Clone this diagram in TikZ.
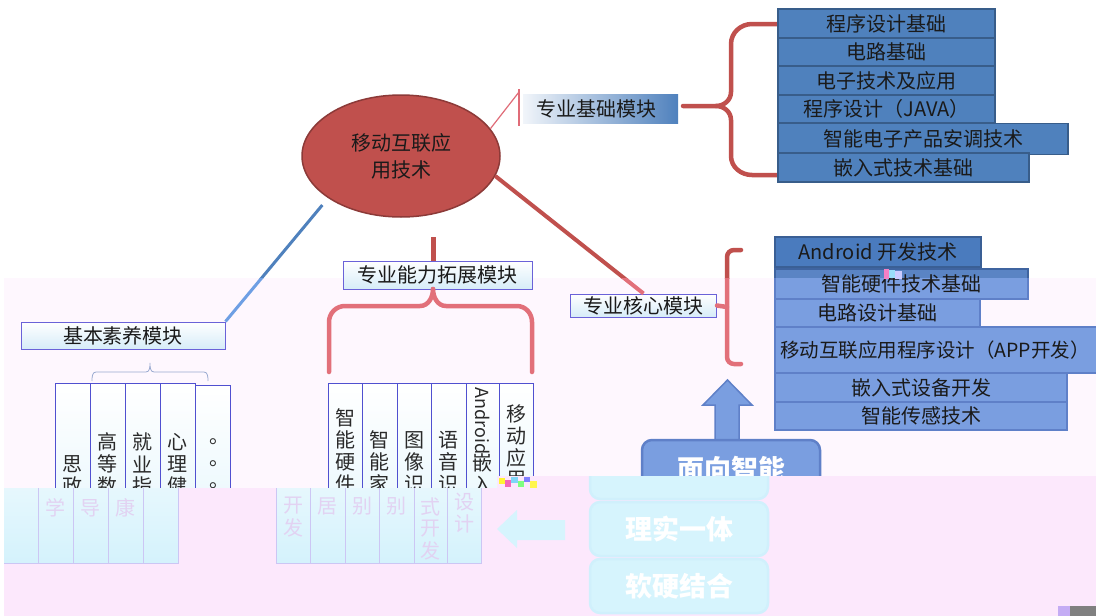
\documentclass[tikz,border=0pt]{standalone}
\usepackage{fontspec}
\setmainfont{Noto Sans CJK SC}
\usetikzlibrary{shapes.geometric}
\newcommand{\fs}[1]{\fontsize{#1}{#1}\selectfont}
\newcount\textmode

\newcommand{\setTop}{%
 \definecolor{cRed}{HTML}{C0504D}%
 \definecolor{cThin}{HTML}{E06C78}%
 \definecolor{cBlueL}{HTML}{4F81BD}%
 \definecolor{cEll}{HTML}{C0504D}%
 \definecolor{cEllB}{HTML}{8C3A38}%
 \definecolor{cS1}{HTML}{4F81BD}%
 \definecolor{cS1B}{HTML}{385D8A}%
 \definecolor{cAnd}{HTML}{4A7BBE}%
 \definecolor{cAndB}{HTML}{3A5F95}%
 \definecolor{cS2}{HTML}{5A84C4}%
 \definecolor{cS2B}{HTML}{3F64A0}%
 \definecolor{cLabB}{HTML}{6A62D8}%
 \definecolor{cLabF}{HTML}{D6ECF8}%
 \definecolor{cColB}{HTML}{5050D0}%
 \definecolor{cColF}{HTML}{E2F5FC}%
 \definecolor{cTxt}{HTML}{1A1A1A}%
 \definecolor{cColT}{HTML}{2A2A2A}%
 \definecolor{cArr}{HTML}{7A9EE0}%
 \definecolor{cArrB}{HTML}{5F80C8}%
 \definecolor{cBr}{HTML}{9AAAD0}%
 \definecolor{cBoxT}{HTML}{FFFFFF}%
}
\newcommand{\setBand}{%
 \setTop
 \definecolor{cRed}{HTML}{E2707A}%
 \definecolor{cBlueL}{HTML}{6E9FE4}%
 \definecolor{cS2}{HTML}{7A9EE0}%
 \definecolor{cS2B}{HTML}{5F80C8}%
}
\newcommand{\setPale}{%
 \setBand
 \definecolor{cColB}{HTML}{CCC6F4}%
 \definecolor{cColF}{HTML}{D4F2FC}%
 \definecolor{cColT}{HTML}{E2D2F2}%
 \definecolor{cArr}{HTML}{D6F4FD}%
 \definecolor{cArrB}{HTML}{D0F0FC}%
}

\tikzset{
 s1/.style={draw=cS1B, fill=cS1, line width=1.5pt, inner sep=0pt},
 s2/.style={draw=cS2B, fill=cS2, line width=1.5pt, inner sep=0pt},
 andbox/.style={draw=cAndB, fill=cAnd, line width=1.5pt, inner sep=0pt},
 lab/.style={draw=cLabB, line width=1pt, top color=white, bottom color=cLabF, inner sep=0pt},
 labzero/.style={left color=white!92!cS1, middle color=white!75!cS1, right color=cS1, inner sep=0pt},
 colbox/.style={draw=cColB, line width=1pt, top color=white, bottom color=cColF, anchor=north west, inner sep=0pt, minimum height=180pt},
 coltxt/.style={text=cColT, font=\fs{20}, inner sep=0pt},
 txt/.style={text=cTxt, font=\fs{20}, inner sep=0pt},
 bigtxt/.style={text=cBoxT, font=\fs{27}\bfseries, inner sep=0pt},
 bracepath/.style={draw=cRed, line width=4.5pt, line cap=round, line join=round},
 rb/.style={rounded corners=10pt, fill=cArr, draw=cArrB, line width=2.5pt, inner sep=0pt, minimum width=178pt},
}

% vertical column text; mode 0 draws the upper characters, mode 1 the lower ones
\newcommand{\vtext}[4]{%
 \foreach \c [count=\i] in {#4} {%
  \pgfmathsetmacro\yy{#3+22*(\i-1)}%
  \ifnum\textmode=0
   \ifdim\yy pt<498pt \node[coltxt] (#1-\i) at (#2,\yy) {\c};\fi
  \else
   \ifdim\yy pt>498pt \node[coltxt] (#1-\i) at (#2,\yy) {\c};\fi
  \fi}%
}

\newcommand{\sceneShapes}{%
 \node[ellipse, draw=cEllB, line width=1.5pt, fill=cEll, minimum width=198pt, minimum height=122pt, inner sep=0pt] (ell) at (401,156) {};
 \node[labzero, minimum width=155pt, minimum height=29pt] (jc) at (600.5,108.5) {};
 \node[lab, minimum width=189pt, minimum height=28pt] (nl) at (437.5,275) {};
 \node[lab, minimum width=146pt, minimum height=23pt] (hx) at (643.5,305.5) {};
 \node[lab, minimum width=204pt, minimum height=27pt] (jb) at (123,335.5) {};
 % connectors
 \coordinate (jcBar) at (519,92);
 \draw[cThin, line width=1.2pt] (ell.17) -- (jcBar);
 \draw[cThin, line width=1.2pt] (519,89) -- (519,126);
 \draw[cRed, line width=4pt] (ell.-12) -- (hx.north);
 \draw[cBlueL, line width=3pt, shorten <=9pt] (ell.210) -- (jb.north east);
 \coordinate (nlTop) at (433,237);
 \draw[cRed, line width=5pt] (nlTop) -- (nlTop |- nl.north);
 % braces
 \draw[bracepath] (778,24) -- (752,24) to[out=180,in=90] (731,44) -- (731,92) to[out=-90,in=0] (716,106) -- (683,106);
 \draw[bracepath] (716,106) to[out=0,in=90] (731,120) -- (731,156) to[out=-90,in=180] (752,175) -- (778,175);
 \draw[bracepath] (741,250) -- (734,250) to[out=180,in=90] (727,257) -- (727,357) to[out=-90,in=180] (734,364) -- (741,364);
 \draw[bracepath] (hx.east) -- (727,307);
 \draw[bracepath] (433,289) to[out=-90,in=0] (420,306) -- (345,306) to[out=180,in=90] (329,322) -- (329,372);
 \draw[bracepath] (433,289) to[out=-90,in=180] (446,306) -- (517,306) to[out=0,in=90] (532,322) -- (532,372);
 \draw[cBr, line width=0.8pt] (92,381) to[out=90,in=180] (96,372) -- (146,372) to[out=0,in=-90] (150,363)
   to[out=-90,in=180] (154,372) -- (204,372) to[out=0,in=90] (208,381);
 % stack 1
 \node[s1, minimum width=217pt, minimum height=29pt] (a1) at (886.5,23.5) {};
 \node[s1, minimum width=217pt, minimum height=28pt] (a2) at (886.5,52) {};
 \node[s1, minimum width=217pt, minimum height=29pt] (a3) at (886.5,80.5) {};
 \node[s1, minimum width=217pt, minimum height=28pt] (a4) at (886.5,109) {};
 \node[s1, minimum width=290pt, minimum height=31pt] (a5) at (923,139) {};
 \node[s1, minimum width=251pt, minimum height=29pt] (a6) at (903.5,167.5) {};
 % stack 2
 \node[andbox, minimum width=206pt, minimum height=30pt] (b1) at (878,252) {};
 \node[s2, minimum width=253pt, minimum height=30pt] (b2) at (901.5,284) {};
 \node[s2, minimum width=205pt, minimum height=28pt] (b3) at (877.5,313) {};
 \node[s2, minimum width=340pt, minimum height=46pt] (b4) at (945,350) {};
 \node[s2, minimum width=292pt, minimum height=29pt] (b5) at (921,387.5) {};
 \node[s2, minimum width=292pt, minimum height=28pt] (b6) at (921,416) {};
 % up arrow
 \draw[fill=cArr, draw=cArrB, line width=1.5pt] (715,441) -- (715,405) -- (703,405) -- (727.5,380) -- (752,405) -- (739,405) -- (739,441) -- cycle;
 % rounded boxes
 \node[rb, minimum height=59pt] (m1) at (731,469.5) {};
 \node[rb, minimum height=54pt] (m2) at (731,529) {};
 \node[rb, minimum height=54pt] (m3) at (731,586) {};
 % left arrow
 \fill[cArr] (549,529) -- (569,510) -- (569,520) -- (617,520) -- (617,540) -- (569,540) -- (569,548) -- cycle;
 % columns
 \node[colbox, minimum width=35pt] (c1) at (55,383) {};
 \node[colbox, minimum width=35pt] (c2) at (90,383) {};
 \node[colbox, minimum width=35pt] (c3) at (125,383) {};
 \node[colbox, minimum width=35pt] (c4) at (160,383) {};
 \node[colbox, minimum width=35pt, minimum height=178pt] (c5) at (195,385) {};
 \node[colbox, minimum width=34pt] (d1) at (328,383) {};
 \node[colbox, minimum width=35pt] (d2) at (362,383) {};
 \node[colbox, minimum width=34pt] (d3) at (397,383) {};
 \node[colbox, minimum width=35pt] (d4) at (431,383) {};
 \node[colbox, minimum width=33pt] (d5) at (466,383) {};
 \node[colbox, minimum width=34pt] (d6) at (499,383) {};
}

\newcommand{\columnText}{%
 \vtext{t1}{72.5}{464}{思,政}
 \vtext{t2}{107.5}{442}{高,等,数,学}
 \vtext{t3}{142.5}{442}{就,业,指,导}
 \vtext{t4}{177.5}{442}{心,理,健,康}
 \vtext{t5}{219}{442}{。,。,。}
 \vtext{u1}{345}{418}{智,能,硬,件,开,发}
 \vtext{u2}{379.5}{440}{智,能,家,居}
 \vtext{u3}{414}{440}{图,像,识,别}
 \vtext{u4}{448.5}{440}{语,音,识,别}
 \vtext{u5}{482.5}{463}{嵌,入,式,开,发}
 \vtext{u6}{516}{414}{移,动,应,用,设,计}
}

\newcommand{\upperText}{%
 \node[txt, align=center, font=\fontsize{20}{27}\selectfont] (ellt) at (ell) {移动互联应\\用技术};
 \node[txt, xshift=-4pt] (jct) at (jc) {专业基础模块};
 \node[txt] (nlt) at (nl) {专业能力拓展模块};
 \node[txt] (hxt) at (hx) {专业核心模块};
 \node[txt] (jbt) at (jb) {基本素养模块};
 \node[txt] (a1t) at (a1) {程序设计基础};
 \node[txt] (a2t) at (a2) {电路基础};
 \node[txt] (a3t) at (a3) {电子技术及应用};
 \node[txt] (a4t) at (a4) {程序设计（JAVA）};
 \node[txt] (a5t) at (a5) {智能电子产品安调技术};
 \node[txt] (a6t) at (a6) {嵌入式技术基础};
 \node[txt] (b1t) at (b1) {Android 开发技术};
 \node[txt] (b2t) at (b2) {智能硬件技术基础};
 \node[txt] (b3t) at (b3) {电路设计基础};
 \node[txt, font=\fs{19.5}, anchor=west] (b4t) at (780,350) {移动互联应用程序设计（APP开发）};
 \node[txt] (b5t) at (b5) {嵌入式设备开发};
 \node[txt] (b6t) at (b6) {智能传感技术};
 \node[coltxt, font=\fs{18}, rotate=-90] (u5a) at (482.5,421) {Android};
}

\begin{document}
\begin{tikzpicture}[x=1pt,y=-1pt]
 \useasboundingbox (0,0) rectangle (1096,616);
 \clip (0,0) rectangle (1096,616);
 \fill[white] (0,0) rectangle (1096,616);
 \fill[fill={rgb,255:red,254;green,247;blue,254}] (4,278) rectangle (1096,616);
 \begin{scope}
  \clip (0,0) rectangle (1096,278);
  \setTop\sceneShapes
 \end{scope}
 \begin{scope}
  \clip (0,278) rectangle (1096,616);
  \setBand\sceneShapes
 \end{scope}
 \begin{scope}
  \clip (0,0) -- (1096,0) -- (1096,476) -- (497,476) -- (497,488) -- (0,488) -- cycle;
  \setTop
  \upperText
  \textmode=0 \columnText
  \node[bigtxt] (m1t) at (m1) {面向智能};
 \end{scope}
 \begin{scope}
  \clip (4,488) -- (497,488) -- (497,476) -- (1096,476) -- (1096,616) -- (4,616) -- cycle;
  \fill[fill={rgb,255:red,252;green,232;blue,252}] (0,470) rectangle (1096,616);
  \begin{scope}[xshift=-52pt]
   \setPale\sceneShapes
   \textmode=1 \columnText
   \node[bigtxt] (pm2t) at (m2) {理实一体};
   \node[bigtxt] (pm3t) at (m3) {软硬结合};
  \end{scope}
 \end{scope}
 % glitch noise
 \fill[yellow!80] (499,478) rectangle (505,484);
 \fill[magenta!60] (505,480) rectangle (511,487);
 \fill[cyan!50] (511,477) rectangle (518,483);
 \fill[green!50] (518,481) rectangle (524,487);
 \fill[blue!50] (524,477) rectangle (530,482);
 \fill[yellow!70] (530,481) rectangle (537,488);
 \fill[magenta!50] (884,269) rectangle (889,279);
 \fill[cyan!40] (889,270) rectangle (895,278);
 \fill[white!80!blue] (895,271) rectangle (902,279);
 \fill[fill={rgb,255:red,196;green,172;blue,244}] (1058,606) rectangle (1070,616);
 \fill[gray] (1070,606) rectangle (1096,616);
\end{tikzpicture}
\end{document}
